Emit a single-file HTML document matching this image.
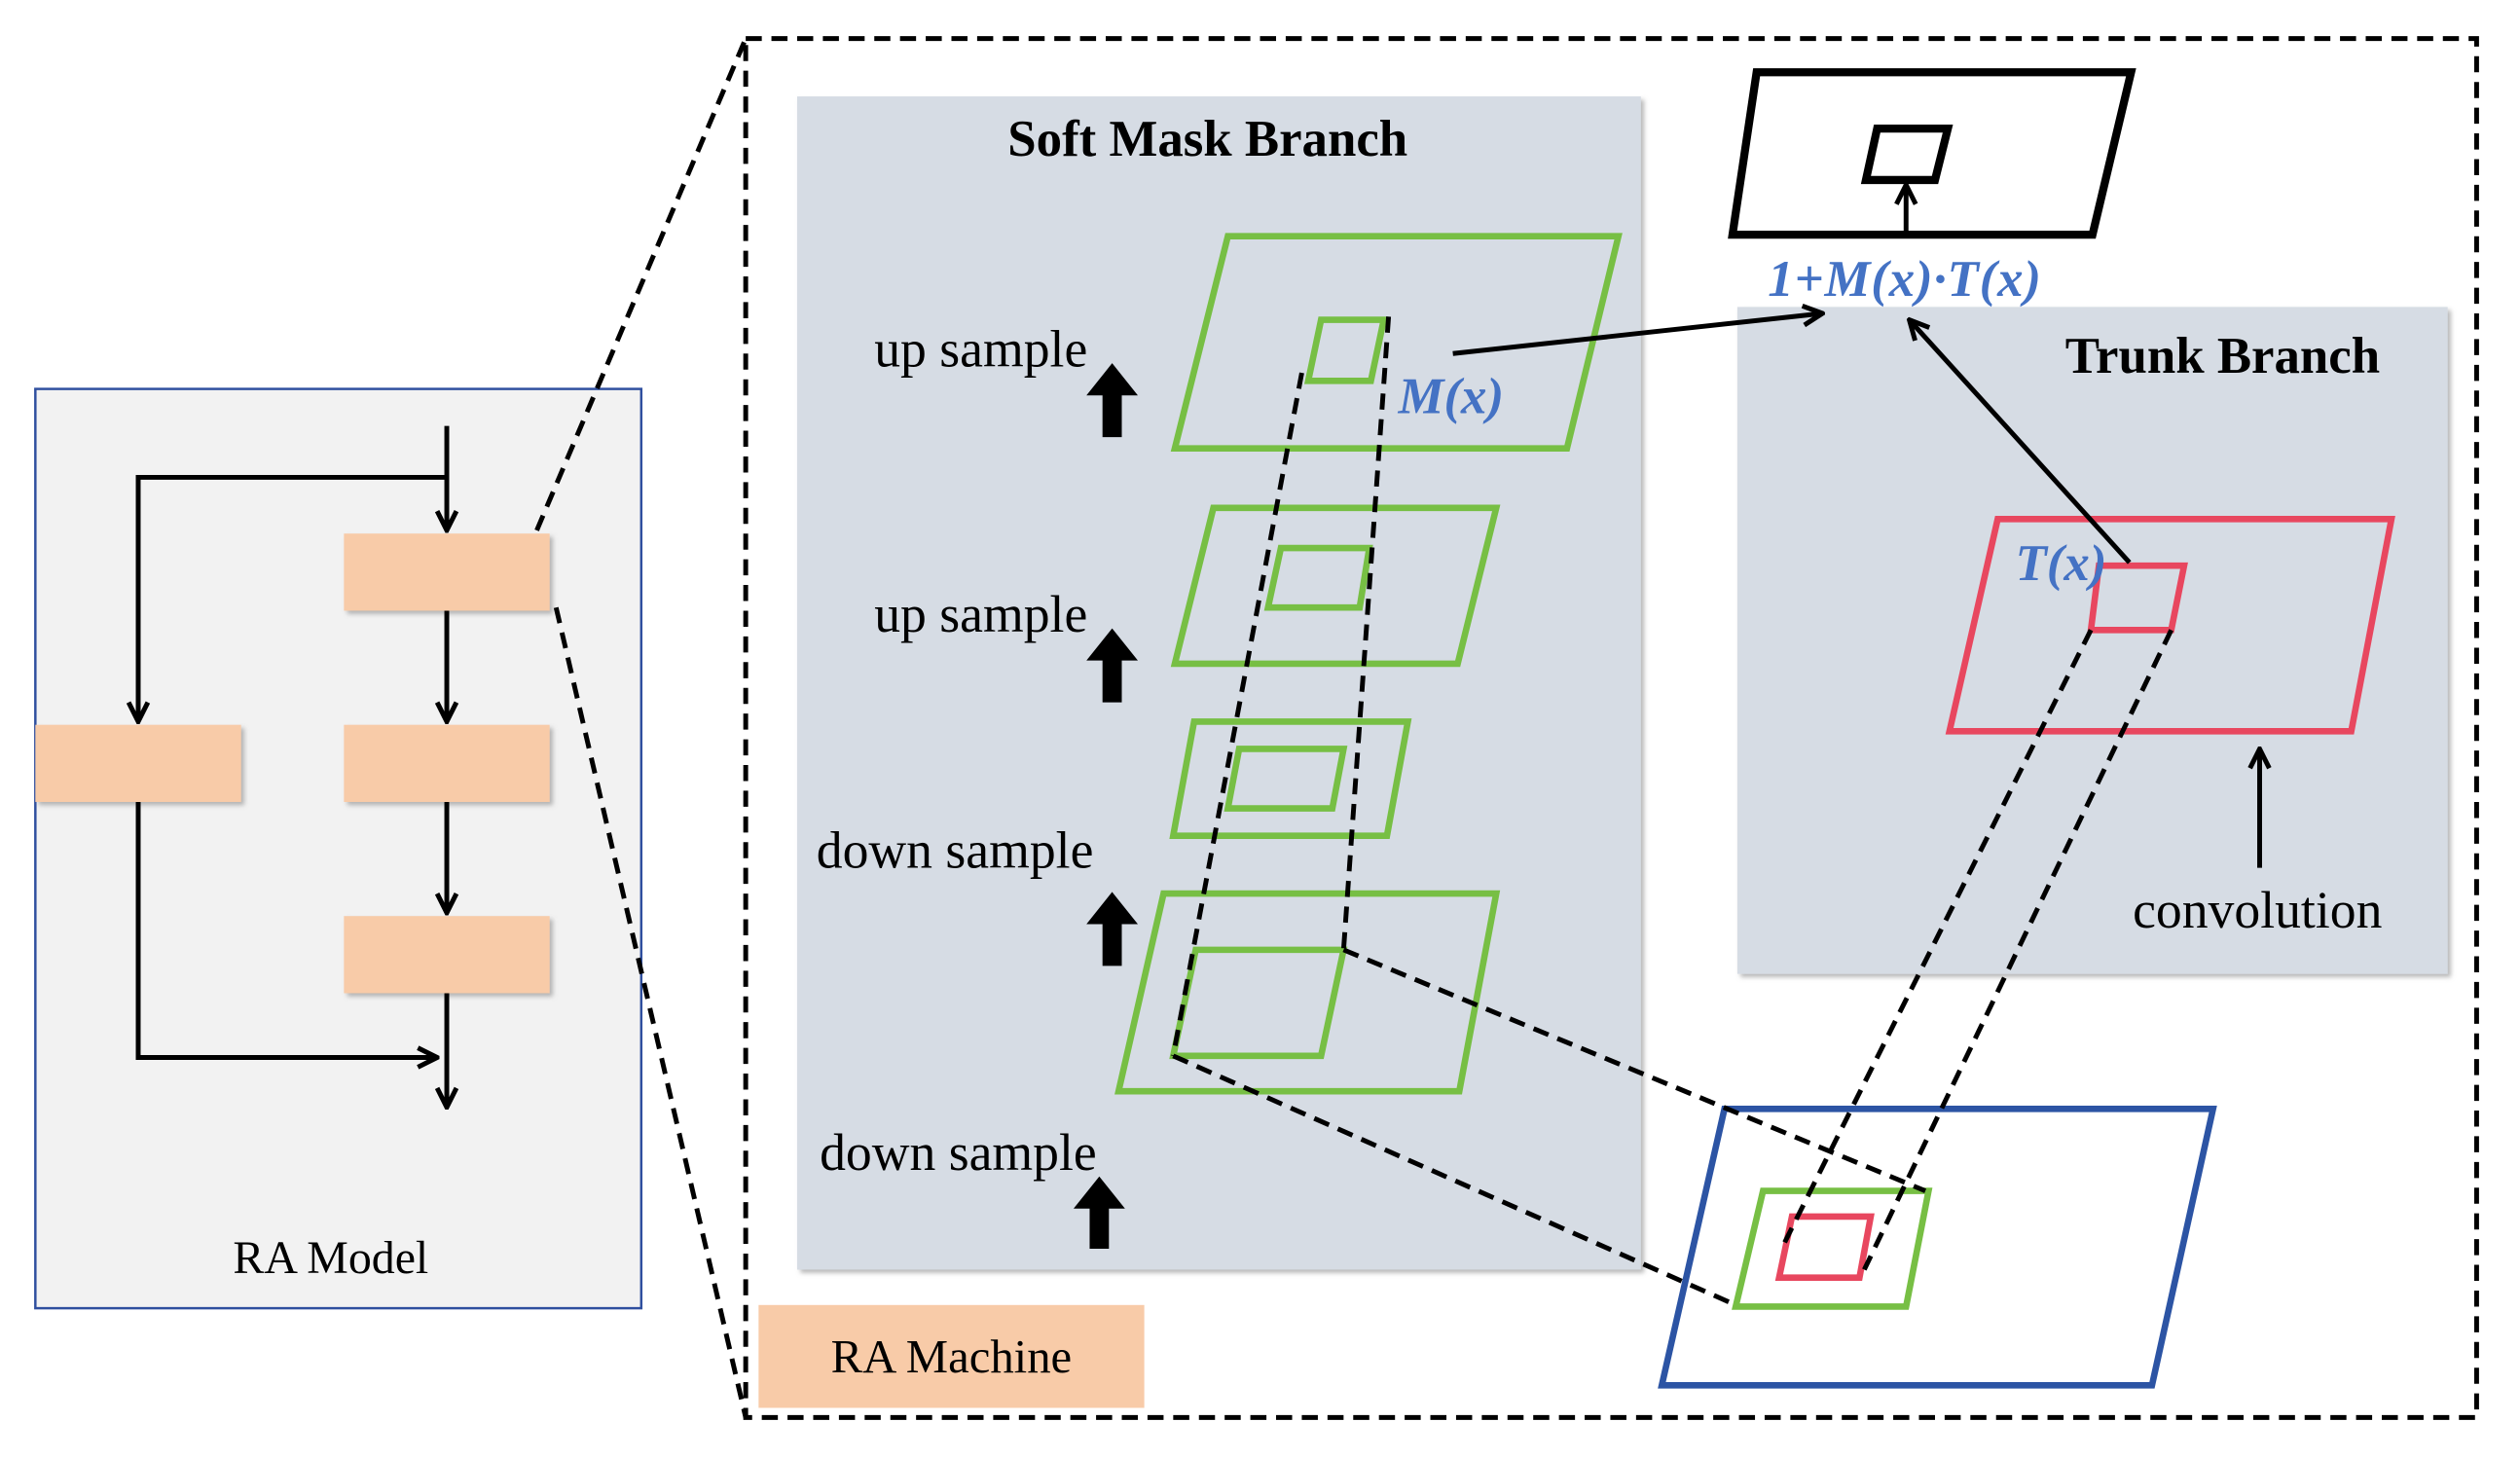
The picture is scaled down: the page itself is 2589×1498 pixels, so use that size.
<!DOCTYPE html>
<html><head><style>html,body{margin:0;padding:0;background:#fff}svg{display:block}</style></head><body>
<svg width="2589" height="1498" viewBox="0 0 1568 907.2" preserveAspectRatio="none" xmlns="http://www.w3.org/2000/svg" font-family="Liberation Serif, serif">
<defs>
<marker id="a" viewBox="0 0 10 10" refX="9" refY="5" markerWidth="5" markerHeight="5" orient="auto"><path d="M1,1 L9,5 L1,9" fill="none" stroke="#000" stroke-width="2"/></marker>
<filter id="s"><feDropShadow dx="2" dy="2" stdDeviation="1.5" flood-color="#888" flood-opacity="0.6"/></filter>
</defs>
<rect x="22" y="242" width="377" height="572" fill="#f2f2f2" stroke="#2f4f9f" stroke-width="1.5"/>
<g fill="#f8cba8" filter="url(#s)">
<rect x="214" y="332" width="128" height="48"/><rect x="22" y="451" width="128" height="48"/>
<rect x="214" y="451" width="128" height="48"/><rect x="214" y="570" width="128" height="48"/>
</g>
<g stroke="#000" stroke-width="3" fill="none" marker-end="url(#a)">
<line x1="278" y1="265" x2="278" y2="330"/>
<polyline points="278,297 86,297 86,449"/>
<line x1="278" y1="380" x2="278" y2="449"/>
<line x1="278" y1="499" x2="278" y2="568"/>
<polyline points="86,499 86,658 272,658"/>
<line x1="278" y1="618" x2="278" y2="689"/>
</g>
<text x="145" y="792" font-size="29">RA Model</text>
<rect x="464" y="24" width="1077" height="858" fill="none" stroke="#000" stroke-width="3" stroke-dasharray="10,6"/>
<g stroke="#000" stroke-width="3" stroke-dasharray="10,6"><line x1="334" y1="330" x2="464" y2="24"/><line x1="346" y1="378" x2="464" y2="882"/></g>
<rect x="496" y="60" width="525" height="730" fill="#d6dce4" filter="url(#s)"/>
<rect x="1081" y="191" width="442" height="415" fill="#d6dce4" filter="url(#s)"/>
<rect x="472" y="812" width="240" height="64" fill="#f8cba8"/>
<text x="517" y="854" font-size="29.5">RA Machine</text>
<text x="627" y="97" font-size="32" font-weight="bold">Soft Mask Branch</text>
<text x="1285" y="232" font-size="32" font-weight="bold">Trunk Branch</text>
<g font-size="32.5"><text x="544" y="228">up sample</text><text x="544" y="393">up sample</text><text x="508" y="540">down sample</text><text x="510" y="728">down sample</text><text x="1327" y="577">convolution</text></g>
<g fill="#000">
<path d="M692,226 L708,246 L698,246 L698,272 L686,272 L686,246 L676,246Z"/>
<path d="M692,391 L708,411 L698,411 L698,437 L686,437 L686,411 L676,411Z"/>
<path d="M692,555 L708,575 L698,575 L698,601 L686,601 L686,575 L676,575Z"/>
<path d="M684,732 L700,752 L690,752 L690,777 L678,777 L678,752 L668,752Z"/>
</g>
<g fill="none" stroke="#77bf44" stroke-width="4">
<polygon points="764,147 1007,147 975,279 731,279"/><polygon points="822,199 861,199 853,237 814,237"/>
<polygon points="755,316 931,316 907,413 731,413"/><polygon points="797,341 852,341 846,378 789,378"/>
<polygon points="743,449 876,449 863,520 730,520"/><polygon points="771,466 836,466 829,503 764,503"/>
<polygon points="724,556 931,556 908,679 696,679"/><polygon points="744,591 836,591 822,657 730,657"/>
<polygon points="1097,741 1200,741 1186,813 1080,813"/>
</g>
<polygon points="1073,690 1377,690 1339,862 1034,862" fill="none" stroke="#2c54a4" stroke-width="4"/>
<g fill="none" stroke="#e8475f" stroke-width="4">
<polygon points="1243,323 1488,323 1463,455 1213,455"/><polygon points="1306,352 1359,352 1351,392 1301,392"/>
<polygon points="1115,757 1164,757 1157,795 1107,795"/>
</g>
<g stroke="#000" stroke-width="3" stroke-dasharray="10,6" fill="none">
<line x1="864" y1="197" x2="836" y2="591"/><line x1="810" y1="232" x2="730" y2="657"/>
<line x1="836" y1="591" x2="1198" y2="741"/><line x1="730" y1="657" x2="1080" y2="812"/>
<line x1="1301" y1="392" x2="1108" y2="778"/><line x1="1351" y1="392" x2="1160" y2="790"/>
</g>
<g fill="none" stroke="#000" stroke-width="5">
<polygon points="1093,45 1326,45 1302,146 1078,146"/><polygon points="1168,80 1212,80 1204,112 1161,112"/>
</g>
<g stroke="#000" stroke-width="3" fill="none" marker-end="url(#a)">
<line x1="1186" y1="146" x2="1186" y2="115"/>
<line x1="904" y1="220" x2="1134" y2="195"/>
<line x1="1325" y1="350" x2="1188" y2="199"/>
<line x1="1406" y1="540" x2="1406" y2="466"/>
</g>
<g fill="#4472c4" font-style="italic" font-weight="bold"><text x="1100" y="184" font-size="32" textLength="170">1+M(x)·T(x)</text><text x="870" y="257" font-size="32">M(x)</text><text x="1254" y="361" font-size="32">T(x)</text></g>
</svg>
</body></html>
